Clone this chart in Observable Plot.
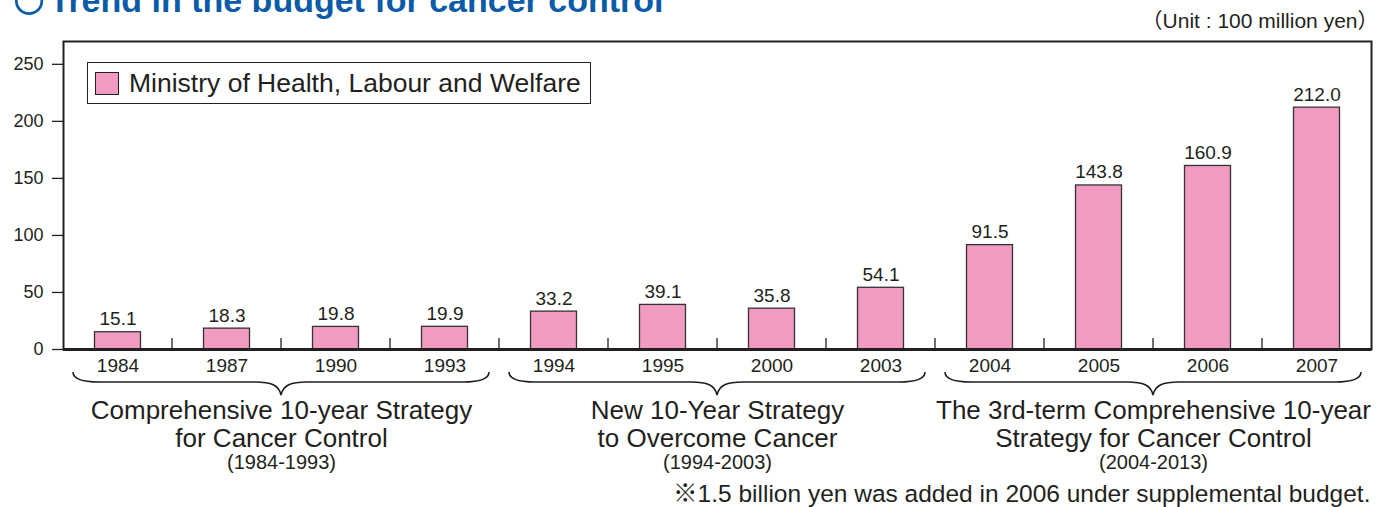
<!DOCTYPE html>
<html><head><meta charset="utf-8">
<script src="https://cdn.jsdelivr.net/npm/d3@7"></script>
<script src="https://cdn.jsdelivr.net/npm/@observablehq/plot@0.6"></script>
<style>
html,body{margin:0;padding:0;background:#fff;}
#wrap{position:relative;width:1378px;height:507px;overflow:hidden;}
#chart{position:absolute;left:0;top:0;}
#legend{position:absolute;left:87px;top:62px;width:504px;height:42px;box-sizing:border-box;border:1.8px solid #231f20;background:#fff;display:flex;align-items:center;font-family:"Liberation Sans",Arial,sans-serif;font-size:26.5px;color:#231f20;white-space:nowrap;}
#legend .sw{width:24px;height:23px;box-sizing:border-box;background:#f29bc2;border:1.5px solid #231f20;margin-left:7px;margin-right:10px;flex:none;}
</style></head><body>
<div id="wrap"><div id="chart"></div><div id="legend"><span class="sw"></span><span id="legend-label"></span></div></div>
<script>
// ---- data ----
const years = ["1984","1987","1990","1993","1994","1995","2000","2003","2004","2005","2006","2007"];
const budget = [15.1, 18.3, 19.8, 19.9, 33.2, 39.1, 35.8, 54.1, 91.5, 143.8, 160.9, 212.0];
const yTicks = [0, 50, 100, 150, 200, 250];
const seriesName = "Ministry of Health, Labour and Welfare";
const groupNames = [
  "Comprehensive 10-year Strategy\nfor Cancer Control",
  "New 10-Year Strategy\nto Overcome Cancer",
  "The 3rd-term Comprehensive 10-year\nStrategy for Cancer Control"
];
const groupPeriods = ["(1984-1993)", "(1994-2003)", "(2004-2013)"];
const groupFirst = ["1984", "1994", "2004"];
const groupLast = ["1993", "2003", "2007"];
const groupLeftOfCenter = ["1987", "1995", "2005"];
const titleMarker = "○";
const titleText = "Trend in the budget for cancer control";
const unitText = "（Unit : 100 million yen）";
const footnoteText = "※1.5 billion yen was added in 2006 under supplemental budget.";

// ---- build ----
document.getElementById("legend-label").textContent = seriesName;
const data = years.map((year, i) => ({year, value: budget[i]}));
const groups = groupNames.map((name, i) => ({
  name, period: groupPeriods[i], first: groupFirst[i], last: groupLast[i], anchor: groupLeftOfCenter[i]
}));

const ink = "#231f20";
const blue = "#0b5ba8";
const font = '"Liberation Sans", Arial, "Noto Sans CJK JP", sans-serif';

// boundary ticks and curly braces, positioned from the x band scale
function boundaries(index, scales, values, dims) {
  const x = scales.x;
  const bw = x.bandwidth ? x.bandwidth() : (x(years[1]) - x(years[0]));
  const base = dims.height - dims.marginBottom;
  const g = d3.create("svg:g");
  years.slice(1).forEach(yr => {
    const bx = x(yr);
    g.append("line").attr("x1", bx).attr("x2", bx).attr("y1", base).attr("y2", base - 11)
      .attr("stroke", ink).attr("stroke-width", 1.3);
  });
  groups.forEach(gr => {
    const x0 = x(gr.first) + 10, x1 = x(gr.last) + bw - 10, m = (x0 + x1) / 2;
    const y0 = base + 23, h = 10, t = 23;
    const d = `M${x0},${y0} C${x0},${y0 + 7} ${x0 + 8},${y0 + h} ${x0 + 26},${y0 + h} ` +
      `L${m - 26},${y0 + h} C${m - 10},${y0 + h} ${m - 2},${y0 + h + 3} ${m},${y0 + t} ` +
      `C${m + 2},${y0 + h + 3} ${m + 10},${y0 + h} ${m + 26},${y0 + h} ` +
      `L${x1 - 26},${y0 + h} C${x1 - 8},${y0 + h} ${x1},${y0 + 7} ${x1},${y0}`;
    g.append("path").attr("d", d).attr("fill", "none").attr("stroke", ink).attr("stroke-width", 1.6);
  });
  return g.node();
}

const chart = Plot.plot({
  width: 1378, height: 507,
  marginLeft: 63, marginRight: 7, marginTop: 41, marginBottom: 158,
  style: {fontFamily: font, color: ink, background: "#fff"},
  x: {domain: years, padding: 0, label: null},
  y: {domain: [0, 270], label: null},
  marks: [
    Plot.barY(data, {x: "year", y: "value", fill: "#f29bc2", stroke: "#333", strokeWidth: 1.3, insetLeft: 31.5, insetRight: 31.5}),
    Plot.text(data, {x: "year", y: "value", text: d => d.value.toFixed(1), lineAnchor: "bottom", dy: -7, fontSize: 19, fill: ink}),
    Plot.axisX({tickSize: 0, tickPadding: 8.5, fontSize: 19, label: null}),
    Plot.axisY({ticks: yTicks, tickSize: 11, tickPadding: 9, fontSize: 18, strokeWidth: 1.3, label: null}),
    Plot.frame({stroke: ink, strokeWidth: 2}),
    Plot.ruleY([0], {stroke: ink, strokeWidth: 3}),
    boundaries,
    Plot.text(groups, {x: "anchor", text: "name", frameAnchor: "bottom", dx: 54.5, dy: 97, lineAnchor: "bottom", fontSize: 26, lineHeight: 1.077, fill: ink}),
    Plot.text(groups, {x: "anchor", text: "period", frameAnchor: "bottom", dx: 54.5, dy: 119, lineAnchor: "bottom", fontSize: 20, fill: ink}),
    Plot.text([footnoteText], {text: d => d, frameAnchor: "bottom-right", textAnchor: "end", lineAnchor: "bottom", dx: -1, dy: 152, fontSize: 24.5, fill: ink}),
    Plot.text([unitText], {text: d => d, frameAnchor: "top-right", textAnchor: "end", lineAnchor: "bottom", dx: 7, dy: -14, fontSize: 21, fill: ink}),
    Plot.text([titleMarker], {text: d => d, frameAnchor: "top-left", textAnchor: "middle", lineAnchor: "bottom", dx: -34.5, dy: -22, fontSize: 64, fill: blue}),
    Plot.text([titleText], {text: d => d, frameAnchor: "top-left", textAnchor: "start", lineAnchor: "bottom", dx: -14, dy: -30, fontSize: 34, fontWeight: "bold", fill: blue})
  ]
});
document.getElementById("chart").appendChild(chart);
</script>
</body></html>
